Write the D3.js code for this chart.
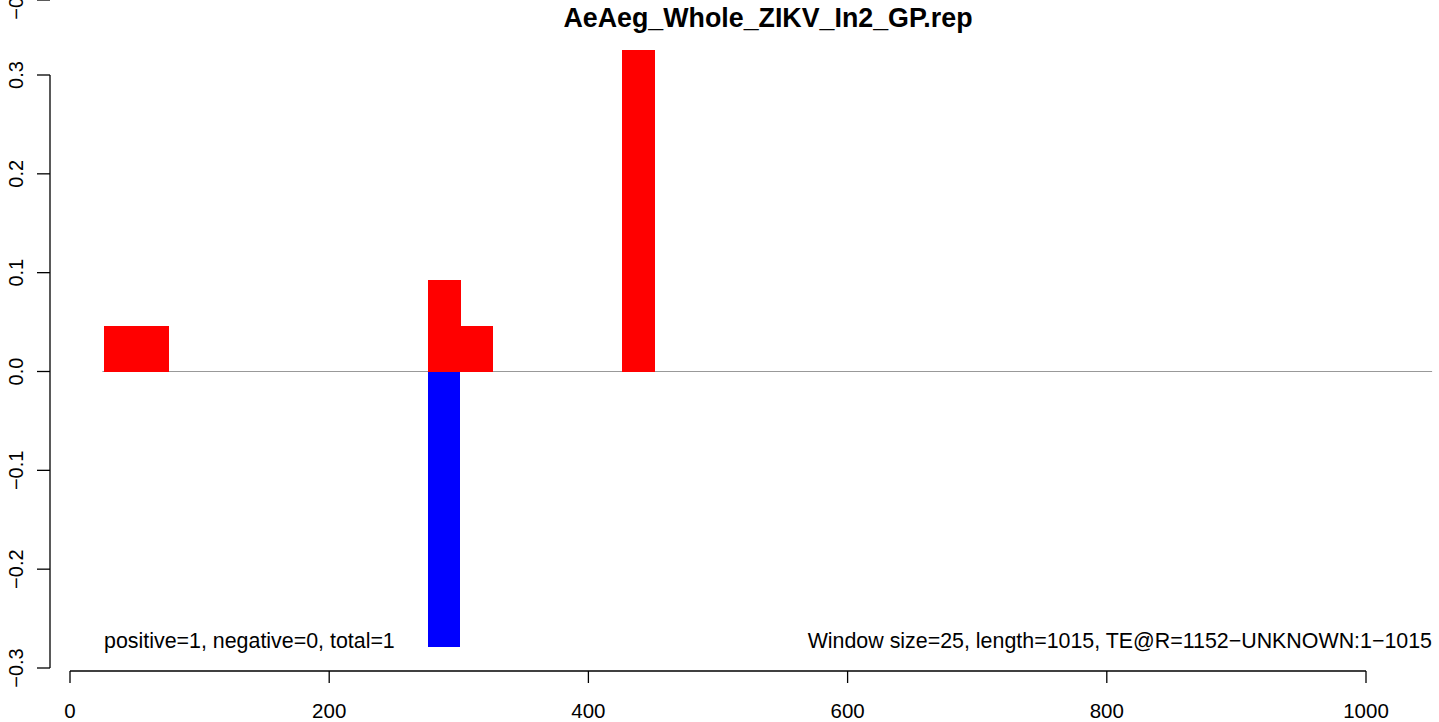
<!DOCTYPE html>
<html><head><meta charset="utf-8">
<script src="https://cdn.jsdelivr.net/npm/d3@7"></script>
<style>body{margin:0;background:#fff}svg{display:block}text{font-family:"Liberation Sans",Arial,sans-serif}rect{shape-rendering:crispEdges}</style>
</head><body>
<script>
const title = "AeAeg_Whole_ZIKV_In2_GP.rep";
const posStart = [26, 51, 276, 301, 426];
const posEnd   = [51, 76, 301, 326, 451];
const posVal   = [0.0465, 0.0465, 0.093, 0.0465, 0.3256];
const negStart = [276];
const negEnd   = [301];
const negVal   = [-0.2791];
const xTicks = [0, 200, 400, 600, 800, 1000];
const yTicks = [-0.3, -0.2, -0.1, 0.0, 0.1, 0.2, 0.3];
const zeroLine = [25, 1051];
const leftNote = "positive=1, negative=0, total=1";
const rightNote = "Window size=25, length=1015, TE@R=1152\u2212UNKNOWN:1\u22121015";

const W = 1439, H = 722;
const svg = d3.select("body").append("svg").attr("width", W).attr("height", H);
const x = d3.scaleLinear().domain([0, 1000]).range([70, 1366]);
const y = d3.scaleLinear().domain([-0.3, 0.3]).range([668, 75]);

// zero line
svg.append("line").attr("x1", x(zeroLine[0])).attr("x2", x(zeroLine[1]))
  .attr("y1", y(0)).attr("y2", y(0)).attr("stroke", "#999").attr("stroke-width", 1.2);

const pos = posStart.map((s, i) => ({s, e: posEnd[i], v: posVal[i]}));
const neg = negStart.map((s, i) => ({s, e: negEnd[i], v: negVal[i]}));
svg.selectAll("rect.pos").data(pos).enter().append("rect")
  .attr("x", d => x(d.s)).attr("width", d => x(d.e) - x(d.s) + 0.6)
  .attr("y", d => y(d.v)).attr("height", d => y(0) - y(d.v)).attr("fill", "#ff0000");
svg.selectAll("rect.neg").data(neg).enter().append("rect")
  .attr("x", d => x(d.s)).attr("width", d => x(d.e) - x(d.s))
  .attr("y", y(0)).attr("height", d => y(d.v) - y(0)).attr("fill", "#0000ff");

// x axis
const xa = svg.append("g").attr("transform", "translate(0,671)");
xa.append("line").attr("x1", x(0)).attr("x2", x(1000)).attr("stroke", "#000").attr("stroke-width", 1.3);
xTicks.forEach(t => {
  xa.append("line").attr("x1", x(t)).attr("x2", x(t)).attr("y1", 0).attr("y2", 12).attr("stroke", "#000").attr("stroke-width", 1.3);
  xa.append("text").attr("x", x(t)).attr("y", 47).attr("text-anchor", "middle").attr("font-size", 20.5).text(t);
});

// y axis
const fmt = v => (v < 0 ? "\u2212" : "") + Math.abs(v).toFixed(1);
const ya = svg.append("g").attr("transform", "translate(50,0)");
ya.append("line").attr("y1", y(-0.3)).attr("y2", y(0.3)).attr("stroke", "#000").attr("stroke-width", 1.3);
yTicks.forEach(t => {
  ya.append("line").attr("x1", -13).attr("x2", 0).attr("y1", y(t)).attr("y2", y(t)).attr("stroke", "#000").attr("stroke-width", 1.3);
  ya.append("text").attr("transform", `translate(-27,${y(t)}) rotate(-90)`)
    .attr("text-anchor", "middle").attr("font-size", 20).text(fmt(t));
});
// cut-off label of panel above (also cut off in the reference)
ya.append("line").attr("x1", -13).attr("x2", 0).attr("y1", 0).attr("y2", 0).attr("stroke", "#000").attr("stroke-width", 1.3);
ya.append("text").attr("transform", `translate(-27,0) rotate(-90)`)
  .attr("text-anchor", "middle").attr("font-size", 20).text(fmt(-0.3));

svg.append("text").attr("x", 768).attr("y", 27).attr("text-anchor", "middle")
  .attr("font-size", 26.8).attr("font-weight", "bold").text(title);
svg.append("text").attr("x", 104).attr("y", 648).attr("font-size", 21.4).text(leftNote);
svg.append("text").attr("x", 1432).attr("y", 648).attr("text-anchor", "end").attr("font-size", 21.4).text(rightNote);
</script>
</body></html>
